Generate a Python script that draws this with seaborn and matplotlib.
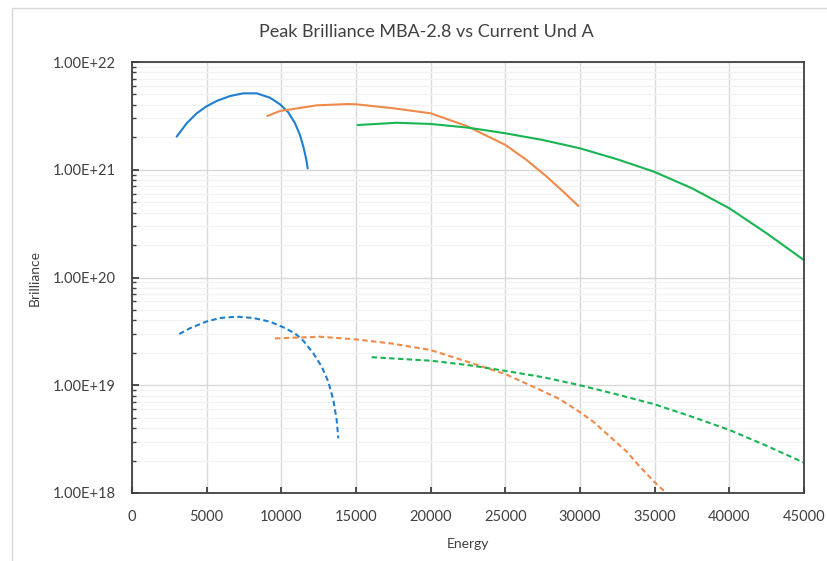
import numpy as np
import pandas as pd
import matplotlib
matplotlib.use("Agg")
import matplotlib.pyplot as plt
import matplotlib.ticker as mticker
from matplotlib.patches import Rectangle
import seaborn as sns

# ---- data ----
blue_solid_x = [2993, 3663, 4333, 4955, 5672, 6562, 7453, 8350, 9241, 9911, 10467, 10915, 11250, 11471, 11652, 11766]
blue_solid_y = [2.03e21, 2.70e21, 3.34e21, 3.85e21, 4.35e21, 4.83e21, 5.12e21, 5.12e21, 4.66e21, 4.05e21,
                3.41e21, 2.70e21, 2.10e21, 1.64e21, 1.28e21, 1.03e21]

orange_solid_x = [9060, 9910, 12370, 14380, 15000, 17500, 20000, 22400, 25000, 26430, 27770, 28880, 29890]
orange_solid_y = [3.15e21, 3.51e21, 3.96e21, 4.07e21, 4.05e21, 3.72e21, 3.34e21, 2.55e21, 1.70e21, 1.23e21,
                  8.63e20, 6.26e20, 4.61e20]

green_solid_x = [15110, 17720, 20000, 22500, 25000, 27500, 30000, 32500, 34950, 37500, 40000, 42500, 45000]
green_solid_y = [2.60e21, 2.73e21, 2.66e21, 2.46e21, 2.18e21, 1.89e21, 1.58e21, 1.25e21, 9.6e20, 6.73e20,
                 4.39e20, 2.57e20, 1.45e20]

blue_dash_x = [3167, 3884, 4955, 5893, 7011, 8123, 9241, 10132, 10915, 11471, 12141, 12703, 13145, 13480, 13708, 13815]
blue_dash_y = [2.99e19, 3.38e19, 3.89e19, 4.21e19, 4.33e19, 4.21e19, 3.89e19, 3.45e19, 3.03e19, 2.59e19,
               1.98e19, 1.49e19, 1.08e19, 7.3e18, 4.76e18, 3.22e18]

orange_dash_x = [9575, 12590, 14930, 17280, 19955, 22480, 25000, 27300, 28660, 29953, 30890, 32009, 33127, 34019, 34975, 35912]
orange_dash_y = [2.72e19, 2.82e19, 2.67e19, 2.45e19, 2.13e19, 1.65e19, 1.27e19, 9.1e18, 7.41e18, 5.68e18,
                 4.59e18, 3.33e18, 2.42e18, 1.75e18, 1.27e18, 0.958e18]

green_dash_x = [16050, 20000, 22500, 25000, 27500, 30000, 32500, 35000, 37500, 40000, 42500, 45000]
green_dash_y = [1.82e19, 1.69e19, 1.54e19, 1.36e19, 1.19e19, 1.0e19, 8.2e18, 6.65e18, 5.1e18, 3.85e18,
                2.74e18, 1.91e18]

x_ticks = [0, 5000, 10000, 15000, 20000, 25000, 30000, 35000, 40000, 45000]
y_ticks = [1e18, 1e19, 1e20, 1e21, 1e22]

title = "Peak Brilliance MBA-2.8 vs Current Und A"
xlabel = "Energy"
ylabel = "Brilliance"

BLUE = "#1f7fd0"
ORANGE = "#f08a4b"
GREEN = "#19b553"

sns.set_theme(style="white")
plt.rcParams["font.family"] = ["Lato", "DejaVu Sans"]

fig = plt.figure(figsize=(8.27, 5.61), dpi=100)
ax = fig.add_axes([132/827, 1-493/561, (804-132)/827, (493-62)/561])

series = [
    (blue_solid_x, blue_solid_y, BLUE, "-"),
    (orange_solid_x, orange_solid_y, ORANGE, "-"),
    (green_solid_x, green_solid_y, GREEN, "-"),
    (blue_dash_x, blue_dash_y, BLUE, "--"),
    (orange_dash_x, orange_dash_y, ORANGE, "--"),
    (green_dash_x, green_dash_y, GREEN, "--"),
]
for xs, ys, c, ls in series:
    df = pd.DataFrame({"x": xs, "y": ys})
    sns.lineplot(data=df, x="x", y="y", ax=ax, color=c, sort=False,
                 linewidth=1.5, estimator=None)
    l = ax.lines[-1]
    if ls == "--":
        l.set_dashes((2.6, 1.6))
    l.set_solid_joinstyle("round")

ax.set_yscale("log")
ax.set_xlim(0, 45000)
ax.set_ylim(1e18, 1e22)
ax.set_xticks(x_ticks)
ax.set_yticks(y_ticks)
ax.yaxis.set_major_formatter(mticker.FuncFormatter(lambda v, p: f"{v:.2E}"))
ax.yaxis.set_minor_locator(mticker.LogLocator(base=10, subs=np.arange(2, 10)))
ax.yaxis.set_minor_formatter(mticker.NullFormatter())

ax.grid(True, which="major", axis="both", color="#d9d9d9", linewidth=1.0)
ax.grid(True, which="minor", axis="y", color="#f2f2f2", linewidth=0.9)
ax.set_axisbelow(True)

for s in ax.spines.values():
    s.set_visible(True)
    s.set_color("#404040")
    s.set_linewidth(1.3)

ax.tick_params(axis="x", which="major", direction="in", length=4, width=1.3,
               color="#404040", labelsize=10.5, labelcolor="#404040", pad=12, bottom=True, top=False)
ax.tick_params(axis="y", which="major", direction="in", length=5, width=1.3,
               color="#404040", labelsize=10.5, labelcolor="#404040", pad=12, left=True, right=False)
ax.tick_params(axis="y", which="minor", direction="in", length=3, width=1.0,
               color="#404040", left=True, right=False)

ax.set_xlabel(xlabel, fontsize=10, color="#404040", labelpad=10)
ax.set_ylabel(ylabel, fontsize=10, color="#404040", labelpad=8)

fig.text(426/827, 1-32/561, title, ha="center", va="center", fontsize=13, color="#404040")

fig.patches.append(Rectangle((12/827, -0.02), 1.1, 1.02 - 8/561, transform=fig.transFigure,
                             fill=False, edgecolor="#d9d9d9", linewidth=1.0))

fig.savefig("out.png", dpi=100)
